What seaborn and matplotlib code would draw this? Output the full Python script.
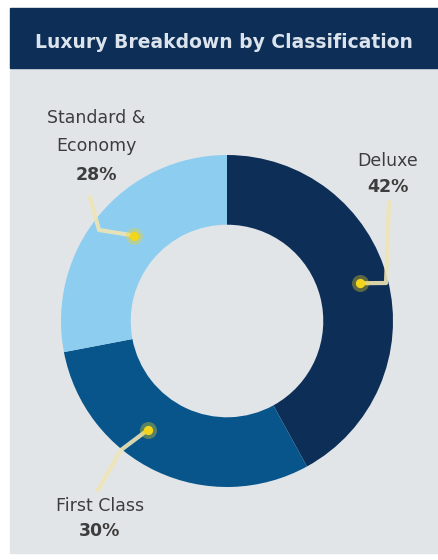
import numpy as np
import matplotlib
matplotlib.use("Agg")
import matplotlib.pyplot as plt
from matplotlib.patches import Rectangle
import seaborn as sns

# Data
categories = ["Deluxe", "First Class", "Standard &\nEconomy"]
shares = [42, 30, 28]
palette = ["#0d2e57", "#07558a", "#8dcdf0"]
title = "Luxury Breakdown by Classification"

sns.set_theme(style="white")
plt.rcParams["font.family"] = ["DejaVu Sans"]

W, H = 438, 560
fig = plt.figure(figsize=(W / 100, H / 100), dpi=100)
fig.patch.set_facecolor("white")
ax = fig.add_axes([0, 0, 1, 1])

# Panel and header bar
ax.add_patch(Rectangle((10, 7), W - 10, H - 75, color="#e2e5e8", zorder=0))
ax.add_patch(Rectangle((10, H - 68), W - 10, 60, color="#0d2e57", zorder=1))
ax.text(224, H - 42, title, color="#dbe3ec", fontsize=13.5, fontweight="bold",
        ha="center", va="center", zorder=2)

# Donut
cx, cy, R = 227, H - 321, 166
hole = 0.42
wedges, _ = ax.pie(shares, colors=palette, startangle=90, counterclock=False,
                   center=(cx, cy), radius=R, frame=True,
                   wedgeprops=dict(width=R * hole, linewidth=0))
ax.set_xlim(0, W)
ax.set_ylim(0, H)
ax.set_axis_off()
ax.set_aspect("equal")

line_c = "#efe5b4"
dot_c = "#f3d51b"

def dot_at(w, along, frac):
    # point inside a wedge: 'along' runs from the wedge's start edge (clockwise)
    ang = np.deg2rad(w.theta2 - along * (w.theta2 - w.theta1))
    return cx + R * frac * np.cos(ang), cy + R * frac * np.sin(ang)

# Leader lines: (wedge, dot placement, elbow points, name anchor, value anchor)
leaders = [
    (wedges[0], (0.49, 0.83), [(386, H - 283), (389, H - 202)], (388, H - 161), (388, H - 187)),
    (wedges[1], (0.60, 0.81), [(121, H - 450), (98, H - 490)], (100, H - 506), (100, H - 531)),
    (wedges[2], (0.53, 0.76), [(99, H - 230), (90, H - 197)], (96, H - 132), (96, H - 175)),
]

for (w, (along, frac), path, name_xy, pct_xy), name, val in zip(leaders, categories, shares):
    dx, dy = dot_at(w, along, frac)
    xs = [dx] + [p[0] for p in path]
    ys = [dy] + [p[1] for p in path]
    ax.plot(xs, ys, color=line_c, lw=3, solid_capstyle="round",
            solid_joinstyle="round", zorder=3, alpha=0.9)
    ax.scatter([dx], [dy], s=150, color=dot_c, alpha=0.35, zorder=4, linewidths=0)
    ax.scatter([dx], [dy], s=45, color=dot_c, zorder=5, linewidths=0)
    ax.text(*name_xy, name, ha="center", va="center", fontsize=12.5,
            color="#3d3d3d", linespacing=1.75, zorder=6)
    ax.text(*pct_xy, f"{val}%", ha="center", va="center", fontsize=12.5,
            fontweight="bold", color="#3d3d3d", zorder=6)

fig.savefig("out.png", dpi=100, facecolor=fig.get_facecolor())
